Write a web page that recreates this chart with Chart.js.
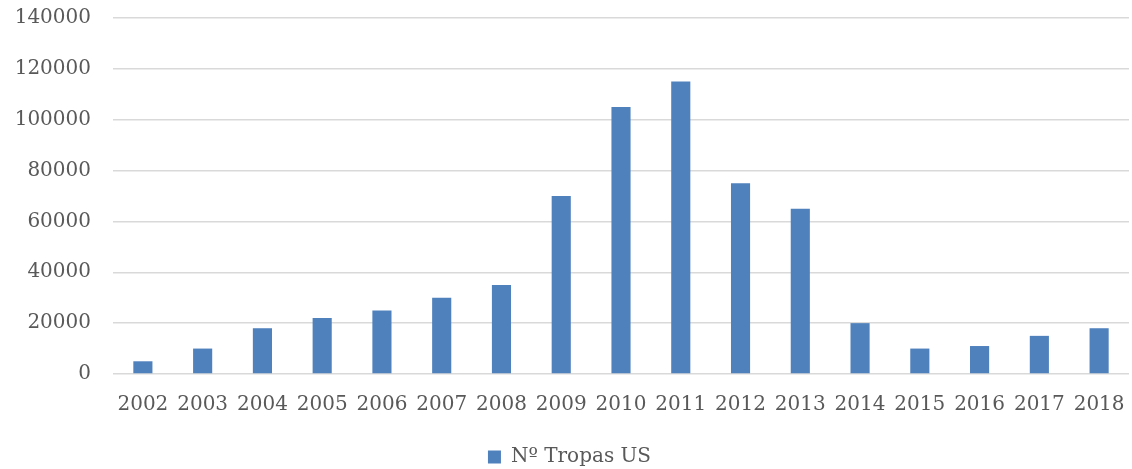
<!DOCTYPE html>
<html>
<head>
<meta charset="utf-8">
<script src="https://cdn.jsdelivr.net/npm/chart.js@4"></script>
<style>
  html, body { margin: 0; padding: 0; background: #ffffff; }
  #wrap { width: 1132px; height: 469px; position: relative; }
</style>
</head>
<body>
<div id="wrap"><canvas id="chart"></canvas></div>
<script>
const years = ['2002','2003','2004','2005','2006','2007','2008','2009','2010','2011','2012','2013','2014','2015','2016','2017','2018'];
const tropas = [5000, 10000, 18000, 22000, 25000, 30000, 35000, 70000, 105000, 115000, 75000, 65000, 20000, 10000, 11000, 15000, 18000];
const seriesName = 'Nº Tropas US';
const yTicks = [0, 20000, 40000, 60000, 80000, 100000, 120000, 140000];

const textColor = '#595959';
const font = { family: '"DejaVu Serif", serif', size: 20 };

new Chart(document.getElementById('chart'), {
  type: 'bar',
  data: {
    labels: years,
    datasets: [{
      label: seriesName,
      data: tropas,
      backgroundColor: '#4F81BD',
      borderWidth: 0,
      categoryPercentage: 1.0,
      barPercentage: 0.32
    }]
  },
  options: {
    responsive: true,
    maintainAspectRatio: false,
    animation: false,
    // legend sits low, so the bottom padding is pulled slightly negative
    layout: { padding: { left: 10, right: 3, top: 0, bottom: -8 } },
    plugins: {
      legend: {
        position: 'bottom',
        labels: {
          color: textColor,
          font: font,
          boxWidth: 13,
          boxHeight: 13,
          padding: 11
        }
      },
      tooltip: { enabled: false }
    },
    scales: {
      x: {
        grid: { display: false },
        border: { display: false },
        ticks: { color: textColor, font: font, padding: 11, maxRotation: 0, autoSkip: false },
        afterFit: (axis) => {
          axis.height = 62;
          axis.paddingLeft = 0;
          axis.paddingRight = 0;
        }
      },
      y: {
        min: 0,
        max: 140000,
        afterBuildTicks: (axis) => { axis.ticks = yTicks.map(v => ({ value: v })); },
        grid: { color: '#D9D9D9', lineWidth: 1.5, drawTicks: false },
        border: { display: false },
        ticks: { color: textColor, font: font, padding: 22, callback: (v) => String(v) },
        afterFit: (axis) => {
          axis.width = 103;
          axis.paddingTop = 18;
          axis.paddingBottom = 0;
        }
      }
    }
  }
});
</script>
</body>
</html>
